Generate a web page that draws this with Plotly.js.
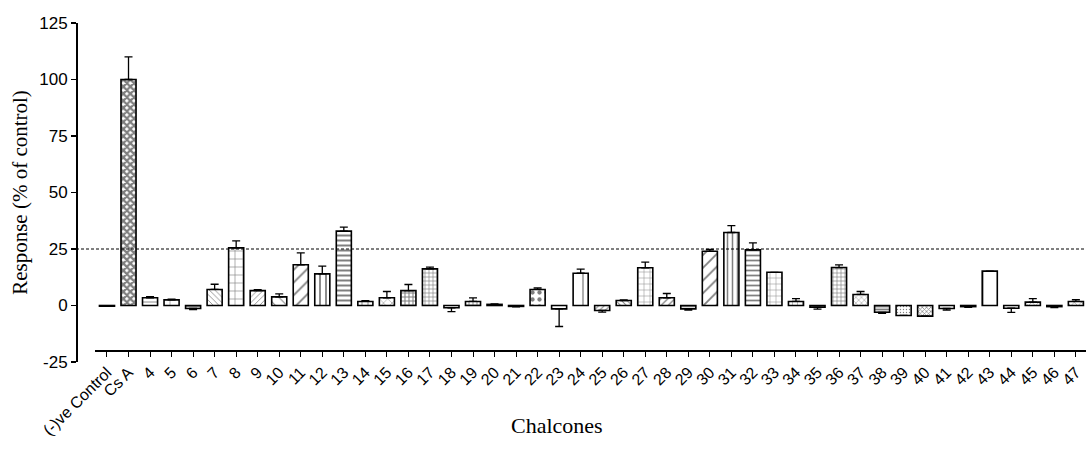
<!DOCTYPE html>
<html>
<head>
<meta charset="utf-8">
<script src="https://cdn.plot.ly/plotly-3.0.1.min.js"></script>
<style>html,body{margin:0;padding:0;background:#fff;}#chart{width:1086px;height:450px;}</style>
</head>
<body>
<div id="chart"></div>
<script>
// ---- data ----
const categories = ["(-)ve Control","Cs A","4","5","6","7","8","9","10","11","12","13","14","15","16","17","18","19","20","21","22","23","24","25","26","27","28","29","30","31","32","33","34","35","36","37","38","39","40","41","42","43","44","45","46","47"];
const responses = [-0.3,100,3.4,2.5,-1.3,7.1,25.5,6.6,3.8,18.0,14.0,32.9,1.8,3.4,6.6,16.2,-1.0,1.8,0.5,-0.4,7.1,-1.5,14.3,-2.2,2.2,16.7,3.4,-1.5,24.0,32.3,24.6,14.7,1.8,-0.8,16.8,4.9,-3.0,-4.4,-4.7,-1.3,-0.5,15.2,-1.2,1.5,-0.5,1.8];
const sem = [0,10,0.5,0.3,0.5,2.3,3.1,0.4,1.3,5.3,3.4,1.8,0.3,2.8,2.7,0.8,1.7,1.6,0.2,0.2,0.7,7.8,1.8,0.7,0.3,2.5,1.9,0.5,0.8,3.0,3.1,0,1.2,0.8,1.2,1.3,0.5,0,0,0.7,0.3,0,1.8,1.5,0.4,0.8];
const threshold = 25;
const yTicks = [-25,0,25,50,75,100,125];
const xTitle = 'Chalcones';
const yTitle = 'Response (% of control)';

// ---- styles (fill patterns per bar) ----
const patShape = ["","x" ,"-","+","-","\\","+","/","\\","/","|","-","|","x","+","+","","+","-","-",".","","|","/","\\","+","/","-","/","|","-","+","+","-","+","x","-",".","x","-","-","|","","x","-","x"];
const patSize  = [8,5,6,10,3,4,8,4,8,9,6,5,6,6,4,4,8,4,3,3,7,8,16,4,4,6,5,3,9,5,5,6,5,3,4,4,3,3,3,4,3,16,8,5,3,5];
const patSolid = [0.3,0.7,0.15,0.12,0.5,0.2,0.15,0.2,0.12,0.2,0.3,0.4,0.15,0.15,0.45,0.3,0.3,0.4,0.6,0.6,0.3,0.3,0.08,0.25,0.25,0.15,0.25,0.5,0.2,0.3,0.35,0.15,0.2,0.5,0.3,0.2,0.6,0.15,0.4,0.2,0.6,0.08,0.3,0.2,0.5,0.2];

const plus = sem.map((e,i)=> responses[i] >= 0 ? e : 0);
const minus = sem.map((e,i)=> responses[i] < 0 ? e : 0);

const trace = {
  type: 'bar',
  x: categories,
  y: responses,
  width: 0.7,
  marker: {
    color: '#ffffff',
    line: {color: '#000000', width: 1.6},
    pattern: {shape: patShape, size: patSize, solidity: patSolid, fgcolor: '#000000', bgcolor: '#ffffff', fillmode: 'overlay'}
  },
  error_y: {type: 'data', symmetric: false, array: plus, arrayminus: minus, color: '#000000', thickness: 1.3, width: 4},
  hoverinfo: 'x+y'
};

const layout = {
  width: 1086, height: 450,
  margin: {l: 76, r: 0, t: 23, b: 88},
  paper_bgcolor: '#ffffff', plot_bgcolor: '#ffffff',
  showlegend: false,
  font: {family: 'Liberation Sans, Arial, sans-serif', color: '#000'},
  xaxis: {
    type: 'category',
    categoryorder: 'array', categoryarray: categories,
    domain: [0.0188, 1],
    range: [-0.557, 45.47],
    anchor: 'free', position: 0.0345,
    showline: true, linecolor: '#000', linewidth: 1.5,
    ticks: 'outside', ticklen: 5, tickwidth: 1, tickcolor: '#000',
    tickangle: -45,
    tickfont: {family: 'Liberation Sans, Arial, sans-serif', size: 16, color: '#000'},
    showgrid: false, zeroline: false
  },
  yaxis: {
    range: [-25, 125],
    anchor: 'free', position: 0,
    tickvals: yTicks, ticktext: yTicks.map(String),
    showline: true, linecolor: '#000', linewidth: 1.5,
    ticks: 'outside', ticklen: 5, tickwidth: 1.2, tickcolor: '#000',
    tickfont: {family: 'Liberation Sans, Arial, sans-serif', size: 17, color: '#000'},
    showgrid: false, zeroline: false,
    title: {text: yTitle, font: {family: 'Liberation Serif, Times New Roman, serif', size: 21, color: '#000'}, standoff: 4}
  },
  annotations: [{
    text: xTitle, xref: 'paper', yref: 'paper', x: 0.476, y: -0.186,
    xanchor: 'center', yanchor: 'middle', showarrow: false,
    font: {family: 'Liberation Serif, Times New Roman, serif', size: 22, color: '#000'}
  }],
  shapes: [{
    type: 'line', xref: 'paper', yref: 'y', x0: 0, x1: 1, y0: threshold, y1: threshold,
    line: {color: '#000', width: 1, dash: '3px,2px'}
  }]
};

Plotly.newPlot('chart', [trace], layout, {displayModeBar: false, staticPlot: true});
</script>
</body>
</html>
